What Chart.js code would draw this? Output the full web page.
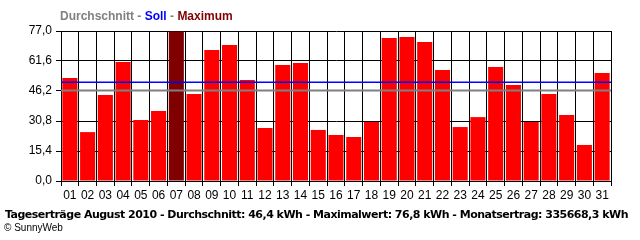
<!DOCTYPE html>
<html>
<head>
<meta charset="utf-8">
<script src="https://cdn.jsdelivr.net/npm/chart.js@4/dist/chart.umd.min.js"></script>
<style>
    html, body { margin: 0; padding: 0; background: #fff; }
    #wrap { position: relative; width: 640px; height: 240px; overflow: hidden; }
    #chart { position: absolute; left: 0; top: 0; }
    .legend { position: absolute; left: 60px; top: 9px; font: bold 12px "Liberation Sans", Arial, sans-serif; white-space: nowrap; }
    .legend .avg { color: #808080; }
    .legend .soll { color: #0000ff; }
    .legend .max { color: #800000; }
    .legend .sep { color: #808080; }
    .footer { position: absolute; left: 5px; top: 208px; font: bold 11px "DejaVu Sans", Verdana, sans-serif; color: #000; white-space: nowrap; }
    .copy { position: absolute; left: 4px; top: 222px; font: 10px "Liberation Sans", Arial, sans-serif; color: #000; white-space: nowrap; }
</style>
</head>
<body>
<div id="wrap">
    <canvas id="chart" width="640" height="240"></canvas>
    <div class="legend"><span class="avg">Durchschnitt</span><span class="sep"> - </span><span class="soll">Soll</span><span class="sep"> - </span><span class="max">Maximum</span></div>
    <div class="footer" id="footer">Tageserträge August 2010 - Durchschnitt: 46,4 kWh - Maximalwert: 76,8 kWh - Monatsertrag: 335668,3 kWh</div>
    <div class="copy">© SunnyWeb</div>
</div>
<script>
// Daily yields, August 2010 (kWh)
const days = ['01', '02', '03', '04', '05', '06', '07', '08', '09', '10',
              '11', '12', '13', '14', '15', '16', '17', '18', '19', '20',
              '21', '22', '23', '24', '25', '26', '27', '28', '29', '30', '31'];
const yields = [52.9, 25.1, 44.1, 61.1, 31.3, 35.9, 76.8, 44.6, 67.2, 69.8,
                51.8, 27.2, 59.5, 60.6, 26.2, 23.6, 22.6, 30.3, 73.4, 73.9,
                71.3, 57.0, 27.7, 32.8, 58.5, 49.3, 30.3, 44.6, 33.9, 18.5, 55.4];
const yTicks = [0, 15.4, 30.8, 46.2, 61.6, 77.0];
const average = 46.4;
const target = 50.7;

// Stretch the footer line so it spans the same width as the original
const footer = document.getElementById('footer');
const footerWidth = 623;
const gap = (footerWidth - footer.getBoundingClientRect().width) / footer.textContent.length;
footer.style.letterSpacing = gap + 'px';

// Highest day gets the dark red colour
const maxIndex = yields.indexOf(Math.max(...yields));
const barColors = yields.map((v, i) => i === maxIndex ? '#800000' : '#ff0000');

// Draw the average (grey) and target (blue) lines across the plot
const refLines = {
    id: 'refLines',
    afterDatasetsDraw(chart) {
        const { ctx, chartArea, scales } = chart;
        const lines = [
            { value: average, color: '#808080', width: 2 },
            { value: target, color: '#0000ff', width: 1.5 }
        ];
        ctx.save();
        lines.forEach(l => {
            const y = scales.y.getPixelForValue(l.value);
            ctx.strokeStyle = l.color;
            ctx.lineWidth = l.width;
            ctx.beginPath();
            ctx.moveTo(chartArea.left, y);
            ctx.lineTo(chartArea.right, y);
            ctx.stroke();
        });
        ctx.restore();
    }
};

const tickFont = { family: '"Liberation Sans", Arial, sans-serif', size: 12 };

new Chart(document.getElementById('chart'), {
    type: 'bar',
    data: {
        labels: days,
        datasets: [{
            data: yields,
            backgroundColor: barColors,
            borderWidth: 0,
            barPercentage: 0.85,
            categoryPercentage: 1.0
        }]
    },
    options: {
        responsive: false,
        animation: false,
        layout: { padding: { top: 31, right: 29, left: 0, bottom: 0 } },
        plugins: {
            legend: { display: false },
            tooltip: { enabled: false }
        },
        scales: {
            x: {
                grid: { color: '#000', lineWidth: 1, offset: true, tickLength: 5 },
                border: { color: '#000' },
                ticks: { color: '#000', font: tickFont, padding: 2, maxRotation: 0, autoSkip: false },
                afterFit: function(scale) { scale.height = 59; }
            },
            y: {
                min: 0,
                max: 77,
                afterBuildTicks: function(scale) {
                    scale.ticks = yTicks.map(v => ({ value: v }));
                },
                grid: { color: '#000', lineWidth: 1, tickLength: 5 },
                border: { color: '#000' },
                ticks: {
                    color: '#000',
                    font: tickFont,
                    padding: 4,
                    callback: function(value) {
                        return value.toFixed(1).replace('.', ',');
                    }
                },
                afterFit: function(scale) { scale.width = 61; }
            }
        }
    },
    plugins: [refLines]
});
</script>
</body>
</html>
